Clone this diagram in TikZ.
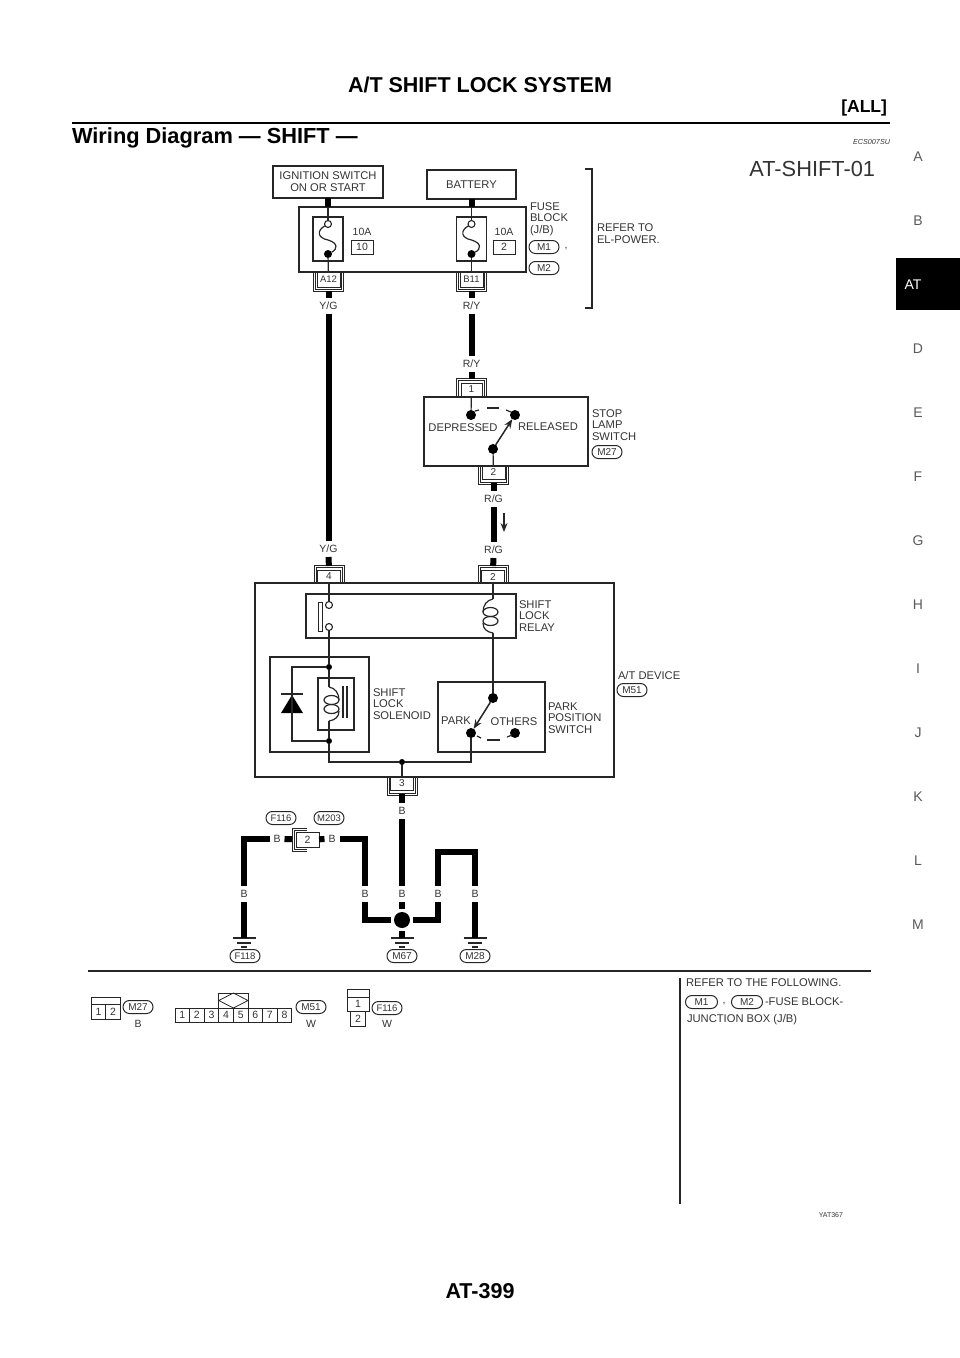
\documentclass[tikz,border=0pt]{standalone}
\usepackage{fontspec}
\setmainfont{Liberation Sans}
\usetikzlibrary{arrows.meta,positioning}

\newcommand{\fsz}[1]{\fontsize{#1}{#1}\selectfont}

\begin{document}
\begin{tikzpicture}[x=1pt,y=-1pt,>={Stealth[length=9pt,width=7pt]},
	line width=1.2pt,draw=black!85,text=black!80,
	every node/.style={inner sep=0pt,outer sep=0pt},
	box/.style={draw,rectangle,line width=1.3pt},
	capt/.style={font=\fsz{11.2},align=left,anchor=west},
	con/.style={draw,rectangle,line width=0.9pt,font=\fsz{10},minimum width=23pt,minimum height=13pt},
	cell/.style={draw,rectangle,line width=0.8pt,font=\fsz{10.5},minimum width=14.6pt,minimum height=14pt},
	amp/.style={draw,rectangle,line width=0.9pt,font=\fsz{10.5},minimum width=22pt,minimum height=14pt},
	tag/.style={draw,rectangle,rounded corners=6.4pt,line width=1pt,font=\fsz{10},minimum width=30pt,minimum height=13pt},
	lbl/.style={font=\fsz{10.5},minimum width=15pt,minimum height=16pt},
	side/.style={font=\fsz{14},text=black!65,node distance=64pt},
	hollow/.style={draw,circle,fill=white,line width=1.1pt,minimum size=7pt},
	filled/.style={circle,fill=black,minimum size=10pt},
	dot/.style={circle,fill=black,minimum size=6pt},
	wire/.style={line width=6pt,draw=black},
	gapline/.style={line width=1.2pt},
	pics/plug/.style={code={
		\draw[line width=0.7pt] (-15,-7) -- (-15,11.5) -- (15,11.5) -- (15,-7);
		\draw[line width=0.7pt] (-13,-7) -- (-13,9.5) -- (13,9.5) -- (13,-7);
	}},
	pics/earth/.style={code={
		\draw[line width=1.1pt] (-11.5,0) -- (11.5,0);
		\draw[line width=1.1pt] (-7,5) -- (7,5);
		\draw[line width=1.1pt] (-3,9) -- (3,9);
	}},
	pics/coil/.style={code={
		\draw (0,0) .. controls (6,1) and (10,6) .. (10,13);
		\draw (10,24) .. controls (10,30) and (6,33) .. (0,34);
		\draw (2.5,13) ellipse [x radius=7.5pt,y radius=4.5pt];
		\draw (2.5,22) ellipse [x radius=7.5pt,y radius=4.5pt];
	}}]
	\useasboundingbox (0,0) rectangle (960,1358);

	% page furniture
	\node[font=\fsz{21.5}\bfseries,text=black]		(title)		at (480,85)		{A/T SHIFT LOCK SYSTEM};
	\node[font=\fsz{17.5}\bfseries,text=black,anchor=east]	(all)	at (887,108)	{[ALL]};
	\draw[line width=2.6pt,black] (72,123) -- (890,123);
	\node[font=\fsz{21.8}\bfseries,text=black,anchor=west]	(head)	at (72,138)		{Wiring Diagram — SHIFT —};
	\node[font=\fsz{7.2}\itshape,anchor=east]	(code)	at (890,142)	{ECS007SU};
	\node[font=\fsz{21.8},anchor=east]	(sheet)		at (875,169)	{AT-SHIFT-01};
	\node[font=\fsz{7},anchor=east]		(yat)		at (843,1215)	{YAT367};
	\node[font=\fsz{21.5}\bfseries,text=black]		(page)		at (480,1291)	{AT-399};

	\fill[black] (896,258) rectangle (960,310);
	\node[side]		(tabA)	at (918,157)			{A};
	\node[side]		(tabB)	[below of=tabA]			{B};
	\node[side,text=white]	(tabAT)	[below of=tabB,xshift=-5pt]	{AT};
	\node[side]		(tabD)	[below of=tabAT,xshift=5pt]	{D};
	\node[side]		(tabE)	[below of=tabD]			{E};
	\node[side]		(tabF)	[below of=tabE]			{F};
	\node[side]		(tabG)	[below of=tabF]			{G};
	\node[side]		(tabH)	[below of=tabG]			{H};
	\node[side]		(tabI)	[below of=tabH]			{I};
	\node[side]		(tabJ)	[below of=tabI]			{J};
	\node[side]		(tabK)	[below of=tabJ]			{K};
	\node[side]		(tabL)	[below of=tabK]			{L};
	\node[side]		(tabM)	[below of=tabL]			{M};

	% fuse block
	\node[box,minimum width=110pt,minimum height=32pt,font=\fsz{11.2},align=center]	(ign)	at (328,182)	{IGNITION SWITCH\\[1pt]ON OR START};
	\node[box,minimum width=89pt,minimum height=29pt,font=\fsz{11.2}]	(bat)	at (471.5,184.5)	{BATTERY};
	\node[box,minimum width=227pt,minimum height=65pt]	(fuse)	at (412.5,239.5)	{};
	\node[box,minimum width=30pt,minimum height=44pt]	(fuseA)	at (328,239)	{};
	\node[box,minimum width=30pt,minimum height=44pt]	(fuseB)	at (471.5,239)	{};
	\node[hollow]	(fuseAin)	at (328,224)	{};
	\node[filled,minimum size=8pt]	(fuseAout)	at (328,254)	{};
	\node[hollow]	(fuseBin)	at (471.5,224)	{};
	\node[filled,minimum size=8pt]	(fuseBout)	at (471.5,254)	{};
	\node[font=\fsz{10.5}]	(ampA)	at (362,232)	{10A};
	\node[amp]		(numA)		at (362,247)	{10};
	\node[font=\fsz{10.5}]	(ampB)	at (504,232)	{10A};
	\node[amp]		(numB)		at (504,247)	{2};
	\node[capt]		(fusecap)	at (530,219)	{FUSE\\[0.5pt]BLOCK\\[0.5pt](J/B)};
	\node[tag]		(m1)		at (544,247)	{M1};
	\node[font=\fsz{10.5}]	(comma)	at (566,249)	{,};
	\node[tag]		(m2)		at (544,268)	{M2};
	\node[capt]		(refer)		at (597,234)	{REFER TO\\[0.8pt]EL-POWER.};
	\draw[line width=1.2pt] (585,169) -- (592,169) -- (592,308) -- (585,308);
	\node[con,minimum height=15pt,font=\fsz{9.5}]	(a12)	at (328.5,279.5)	{A12};
	\node[con,minimum height=15pt,font=\fsz{9.5}]	(b11)	at (471.5,279.5)	{B11};
	\pic at (a12) {plug};
	\pic at (b11) {plug};
	\draw (ign.south) -- (fuseAin);
	\draw (bat.south) -- (fuseBin);
	\draw (fuseAin) .. controls (316,231) and (318,238) .. (328,240) .. controls (338,243) and (338,249) .. (fuseAout);
	\draw (fuseBin) .. controls (459.5,231) and (461.5,238) .. (471.5,240) .. controls (481.5,243) and (481.5,249) .. (fuseBout);
	\path
		(fuseAout)	edge	(a12)
		(fuseBout)	edge	(b11)
		(ign.south)	edge[wire]	(ign.south |- fuse.north)
		(bat.south)	edge[wire]	(bat.south |- fuse.north)
	;

	% stop lamp switch
	\node[lbl]		(yg1)	at (328.5,305.5)	{Y/G};
	\node[lbl]		(ry1)	at (471.5,305.5)	{R/Y};
	\node[lbl]		(ry2)	at (471.5,364)		{R/Y};
	\node[con,minimum width=21pt]	(stop1)	at (471.5,389.5)	{1};
	\node[box,minimum width=164pt,minimum height=69pt]	(stop)	at (506,431.5)	{};
	\node[filled]	(stopL)		at (471,415)	{};
	\node[filled]	(stopR)		at (515,415)	{};
	\node[filled]	(stopC)		at (493,449)	{};
	\node[font=\fsz{11.2}]	(dep)	at (463,428)	{DEPRESSED};
	\node[font=\fsz{11.2}]	(rel)	at (548,427)	{RELEASED};
	\node[capt]		(stopcap)	at (592,425)	{STOP\\[0.5pt]LAMP\\[0.5pt]SWITCH};
	\node[tag]		(m27)		at (607,452)	{M27};
	\node[con]		(stop2)		at (493.5,472.5)	{2};
	\pic[yscale=-1] at (stop1) {plug};
	\pic at (stop2) {plug};
	\node[lbl]		(rg1)	at (493.5,499)	{R/G};
	\node[lbl]		(rg2)	at (493.5,550)	{R/G};
	\node[lbl]		(yg2)	at (328.5,549)	{Y/G};
	\coordinate		(flowA)	at (504,513);
	\coordinate		(flowB)	at (504,532);
	\draw[gapline] (475,411) -- (479,410);
	\draw[gapline] (487,408) -- (499,408);
	\draw[gapline] (506,410) -- (511,412);
	\path
		(stop1)		edge	(stopL)
		(stopC)		edge[->,line width=1.5pt]	(stopR)
		(stopC)		edge	(stop2)
		(flowA)		edge[->,line width=1.5pt]	(flowB)
		(yg1)		edge[wire]	(yg2)
		(a12)		edge[wire,shorten <=4pt]	(yg1)
		(b11)		edge[wire,shorten <=4pt]	(ry1)
		(ry1)		edge[wire]	(ry2)
		(ry2)		edge[wire,shorten >=4pt]	(stop1)
		(stop2)		edge[wire,shorten <=4pt]	(rg1)
		(rg1)		edge[wire]	(rg2)
	;

	% a/t device
	\node[con]		(dev4)	at (329,576.5)	{4};
	\node[con]		(dev2)	at (493,576.5)	{2};
	\node[con]		(dev3)	at (402,783.5)	{3};
	\pic[yscale=-1] at (dev4) {plug};
	\pic[yscale=-1] at (dev2) {plug};
	\pic at (dev3) {plug};
	\node[box,minimum width=359pt,minimum height=194pt]	(dev)	at (434.5,680)	{};
	\node[box,minimum width=210pt,minimum height=44pt]	(relay)	at (411,616)	{};
	\node[box,minimum width=99pt,minimum height=95pt]	(sol)	at (319.5,704.5)	{};
	\node[box,minimum width=36pt,minimum height=52pt]	(solcoil)	at (336,704)	{};
	\node[box,minimum width=107pt,minimum height=70pt]	(park)	at (491.5,717)	{};
	\node[capt]		(relaycap)	at (519,616)	{SHIFT\\[0.5pt]LOCK\\[0.5pt]RELAY};
	\node[capt]		(solcap)	at (373,704)	{SHIFT\\[0.5pt]LOCK\\[0.5pt]SOLENOID};
	\node[capt]		(parkcap)	at (548,718)	{PARK\\[0.5pt]POSITION\\[0.5pt]SWITCH};
	\node[capt]		(devcap)	at (618,675)	{A/T DEVICE};
	\node[tag]		(m51)		at (632,690)	{M51};
	\node[hollow]	(relA)		at (329,605)	{};
	\node[hollow]	(relB)		at (329,627)	{};
	\draw[line width=1pt] (318,602) rectangle (322,631);
	\coordinate		(relin)		at (493,599);
	\coordinate		(relout)	at (493,633);
	\pic[xscale=-1] at (relin) {coil};
	\coordinate		(solin)		at (329,687);
	\coordinate		(solout)	at (329,721);
	\pic at (solin) {coil};
	\draw[line width=1.2pt] (343,686) -- (343,718);
	\draw[line width=1.2pt] (347,686) -- (347,718);
	\node[dot]		(solT)		at (329,667)	{};
	\node[dot]		(solB)		at (329,741)	{};
	\node[dot]		(gnddot)	at (402,762)	{};
	\coordinate		(diode)		at (292,704);
	\fill[black] (292,695) -- (303,713) -- (281,713) -- cycle;
	\draw (281,694) -- (303,694);
	\node[filled]	(parkT)		at (493,698)	{};
	\node[filled]	(parkL)		at (471,733)	{};
	\node[filled]	(parkR)		at (515,733)	{};
	\node[font=\fsz{11.2}]	(parkt)	at (456,721)	{PARK};
	\node[font=\fsz{11.2}]	(others)	at (514,722)	{OTHERS};
	\draw[gapline] (477,736) -- (481,738);
	\draw[gapline] (487,740) -- (500,740);
	\draw[gapline] (507,737) -- (512,735);
	\draw (solT) -| (diode) |- (solB);
	\draw (solB) |- (gnddot);
	\draw (gnddot) -| (parkL);
	\path
		(dev4)		edge	(relA)
		(relB)		edge	(solT)
		(solT)		edge	(solin)
		(solout)	edge	(solB)
		(dev2)		edge	(relin)
		(relout)	edge	(parkT)
		(parkT)		edge[->,line width=1.5pt]	(parkL)
		(gnddot)	edge	(dev3)
		(yg2)		edge[wire,shorten >=4pt]	(dev4)
		(rg2)		edge[wire,shorten >=4pt]	(dev2)
	;

	% grounds
	\node[lbl]		(bC1)	at (402,811)	{B};
	\node[lbl]		(bC2)	at (402,894)	{B};
	\node[lbl]		(bL1)	at (244,894)	{B};
	\node[lbl]		(bL2)	at (277,839)	{B};
	\node[lbl]		(bM1)	at (332,839)	{B};
	\node[lbl]		(bM2)	at (365,894)	{B};
	\node[lbl]		(bR1)	at (438,894)	{B};
	\node[lbl]		(bR2)	at (475,894)	{B};
	\node[con,minimum height=15pt,font=\fsz{10.5}]	(f116c)	at (307.5,839.5)	{2};
	\draw[line width=0.7pt] (307,828) -- (292,828) -- (292,851) -- (307,851);
	\draw[line width=0.7pt] (307,830) -- (294,830) -- (294,849) -- (307,849);
	\node[tag,font=\fsz{9.5}]	(f116)	at (281,818)	{F116};
	\node[tag,font=\fsz{9.5}]	(m203)	at (329,818)	{M203};
	\node[circle,fill=black,minimum size=16pt]	(junc)	at (402,920)	{};
	\coordinate		(gndL)	at (244,938);
	\coordinate		(gndC)	at (402,938);
	\coordinate		(gndR)	at (475,938);
	\coordinate		(bend)	at (456,852);
	\pic at (gndL) {earth};
	\pic at (gndC) {earth};
	\pic at (gndR) {earth};
	\node[tag,font=\fsz{9.5}]	(f118)	at (245,956)	{F118};
	\node[tag]		(m67)	at (402,956)	{M67};
	\node[tag]		(m28)	at (475,956)	{M28};
	\draw[wire,shorten >=3pt] (bM2.south) |- (junc);
	\draw[wire,shorten >=3pt] (bR1.south) |- (junc);
	\draw[wire] (bL2.west) -| (bL1.north);
	\draw[wire] (bM1.east) -| (bM2.north);
	\draw[wire] (bR1.north) |- (bend) -| (bR2.north);
	\path
		(dev3)		edge[wire,shorten <=4pt]	(bC1)
		(bC1)		edge[wire]	(bC2)
		(bC2)		edge[wire,shorten >=3pt]	(junc)
		(junc)		edge[wire,shorten <=3pt]	(gndC)
		(bL1)		edge[wire]	(gndL)
		(bR2)		edge[wire]	(gndR)
		(bL2)		edge[wire,shorten >=4pt]	(f116c)
		(f116c)		edge[wire]	(bM1)
	;

	% connector views
	\draw[line width=1.5pt] (88,971) -- (871,971);
	\draw[line width=1.5pt] (680,978) -- (680,1204);
	\node[cell,minimum height=15pt]	(vA1)	at (98.5,1011.5)	{1};
	\node[cell,minimum height=15pt]	(vA2)	[right=0pt of vA1]	{2};
	\draw[line width=0.8pt] (vA1.north west) -- ++(0,-7) -| (vA2.north east);
	\node[tag]		(vM27)	at (138,1007)	{M27};
	\node[font=\fsz{10.5}]	(vB)	at (138,1024)	{B};
	\node[cell]		(vB1)	at (182.3,1015)		{1};
	\node[cell]		(vB2)	[right=0pt of vB1]	{2};
	\node[cell]		(vB3)	[right=0pt of vB2]	{3};
	\node[cell]		(vB4)	[right=0pt of vB3]	{4};
	\node[cell]		(vB5)	[right=0pt of vB4]	{5};
	\node[cell]		(vB6)	[right=0pt of vB5]	{6};
	\node[cell]		(vB7)	[right=0pt of vB6]	{7};
	\node[cell]		(vB8)	[right=0pt of vB7]	{8};
	\draw[line width=0.8pt] (vB4.north west) -- ++(0,-15) -| (vB5.north east);
	\draw[line width=0.8pt] (vB4.north west) ++(0,-7.5) -- ++(14.6,-7.5) -- ++(14.6,7.5) -- ++(-14.6,7.5) -- cycle;
	\node[tag]		(vM51)	at (311,1007)	{M51};
	\node[font=\fsz{10.5}]	(vW1)	at (311,1024)	{W};
	\node[cell,minimum width=22pt]	(vC1)	at (358,1004)	{1};
	\node[cell,minimum width=15pt,minimum height=15pt]	(vC2)	[below=0pt of vC1]	{2};
	\draw[line width=0.8pt] (vC1.north west) -- ++(0,-8) -| (vC1.north east);
	\node[tag,font=\fsz{9.5}]	(vF116)	at (387,1008)	{F116};
	\node[font=\fsz{10.5}]	(vW2)	at (387,1024)	{W};
	\node[capt,font=\fsz{11.2}]	(follow)	at (686,983)	{REFER TO THE FOLLOWING.};
	\node[tag,minimum width=32pt]	(vM1)	at (701.5,1002)	{M1};
	\node[font=\fsz{10.5}]	(vcomma)	at (724,1004)	{,};
	\node[tag,minimum width=31pt]	(vM2)	at (747,1002)	{M2};
	\node[capt,font=\fsz{11.2}]	(vfb)	at (765,1002)	{-FUSE BLOCK-};
	\node[capt,font=\fsz{11.2}]	(vjb)	at (687,1020)	{JUNCTION BOX (J/B)};
\end{tikzpicture}
\end{document}
